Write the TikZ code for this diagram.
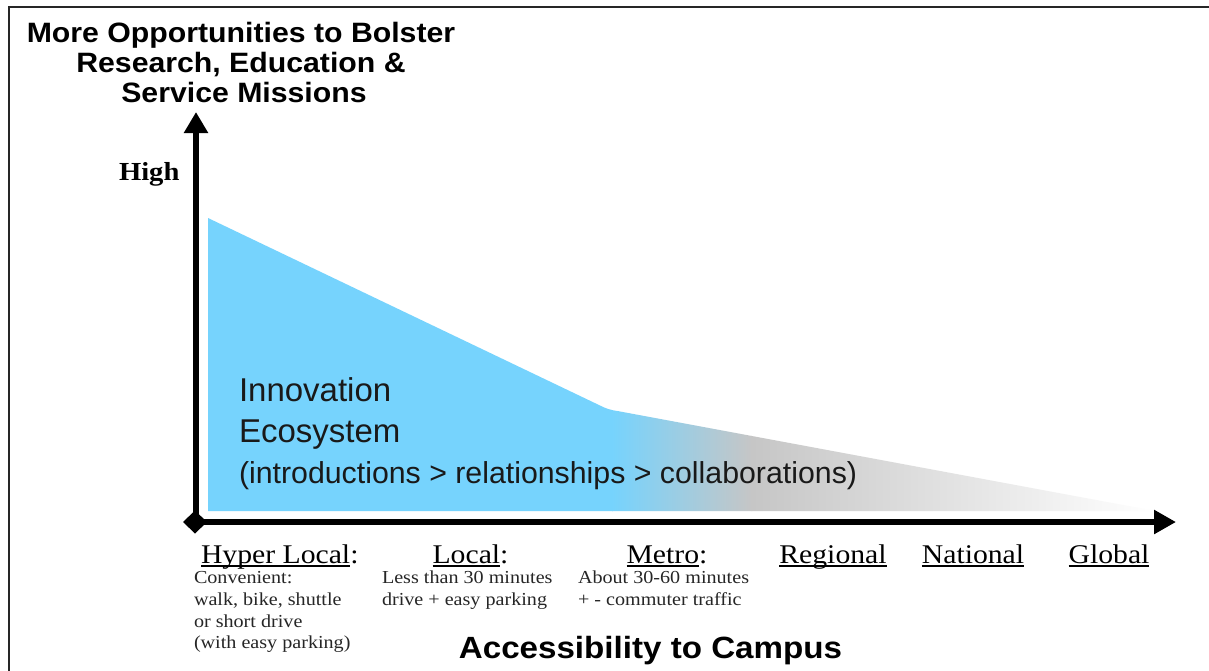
\documentclass[tikz,border=0pt]{standalone}
\usepackage{fontspec}
\setmainfont{Liberation Serif}
\newfontfamily\arialx{Liberation Sans}[FakeStretch=1.08]
\newfontfamily\arialn{Liberation Sans}
\newfontfamily\timesx{Liberation Serif}[FakeStretch=1.1]
\usetikzlibrary{arrows.meta}
\definecolor{ecoblue}{RGB}{118,211,253}
\definecolor{ecogray}{RGB}{198,198,198}
\newsavebox\ulbox
\newcommand\ulx[1]{\sbox\ulbox{#1}\rlap{\rule[-3.6pt]{\wd\ulbox}{1.3pt}}\usebox\ulbox}
\begin{document}
\begin{tikzpicture}[x=1pt,y=-1pt,
  txt/.style={inner sep=0pt, outer sep=0pt, text=black},
  titletxt/.style={txt, anchor=base, font=\arialx\bfseries\fontsize{28}{30}\selectfont},
  axistxt/.style={txt, anchor=base, font=\arialx\bfseries\fontsize{30.7}{32}\selectfont},
  hightxt/.style={txt, anchor=base west, font=\timesx\bfseries\fontsize{26}{28}\selectfont},
  scaletxt/.style={txt, anchor=base, font=\timesx\fontsize{27}{29}\selectfont},
  smalltxt/.style={txt, anchor=base west, text=black!85, font=\timesx\fontsize{18.3}{21}\selectfont},
  ecotxt/.style={txt, anchor=base west, text=black!90, font=\arialn\fontsize{33}{40}\selectfont},
  ecosub/.style={txt, anchor=base west, text=black!90, font=\arialn\fontsize{30.3}{36}\selectfont},
  axisline/.style={line width=6.5pt, black},
  frameline/.style={line width=2pt, black!85}]
\useasboundingbox (0,0) rectangle (1209,670);
\fill[white] (0,0) rectangle (1209,670);
% frame
\draw[frameline] (9,690) -- (9,7) -- (1230,7);
% ecosystem area
\begin{scope}
\path[clip] (208,218) -- (600,405.5) .. controls (606,408.5) and (610,410) .. (618,411.1) -- (1150,510) -- (1150,511) -- (208,511) -- cycle;
\fill[ecoblue] (200,200) rectangle (612.5,520);
\shade[left color=ecoblue, right color=ecogray] (612,200) rectangle (752,520);
\shade[left color=ecogray, right color=white] (751.5,200) rectangle (1155,520);
\end{scope}
% axes
\coordinate (O) at (196,525);
\coordinate (ytip) at (196,112);
\coordinate (xstart) at (183,522);
\coordinate (xtip) at (1176,522);
\draw[axisline, -{Triangle[length=21pt,width=23pt]}] (O) -- (ytip);
\draw[axisline, {Diamond[length=24pt,width=23pt]}-{Triangle[length=22pt,width=23pt]}] (xstart) -- (xtip);
% title
\node[titletxt] (t1) at (241,42) {More Opportunities to Bolster};
\node[titletxt] (t2) at (241,72) {Research, Education \&};
\node[titletxt] (t3) at (244,102) {Service Missions};
\node[hightxt] (high) at (119,180) {High};
% area labels
\node[ecotxt] (inno) at (239,401) {Innovation};
\node[ecotxt] (eco) at (239,442) {Ecosystem};
\node[ecosub] (chain) at (239,483) {(introductions > relationships > collaborations)};
% scale labels
\node[txt, anchor=base west, font=\timesx\fontsize{27}{29}\selectfont] (hyper) at (201,563) {\ulx{Hyper Local}:};
\node[scaletxt] (local) at (470.5,563) {\ulx{Local}:};
\node[scaletxt] (metro) at (667,563) {\ulx{Metro}:};
\node[scaletxt] (regional) at (833,563) {\ulx{Regional}};
\node[scaletxt] (national) at (973,563) {\ulx{National}};
\node[scaletxt] (global) at (1109,563) {\ulx{Global}};
% descriptions
\node[smalltxt] (h1) at (194,583.5) {Convenient:};
\node[smalltxt] (h2) at (194,605.5) {walk, bike, shuttle};
\node[smalltxt] (h3) at (194,627) {or short drive};
\node[smalltxt] (h4) at (194,648.5) {(with easy parking)};
\node[smalltxt] (l1) at (382,583.5) {Less than 30 minutes};
\node[smalltxt] (l2) at (382,605.5) {drive + easy parking};
\node[smalltxt] (m1) at (578,583.5) {About 30-60 minutes};
\node[smalltxt] (m2) at (578,605.5) {+ - commuter traffic};
% x axis title
\node[axistxt] (xlabel) at (650.5,658) {Accessibility to Campus};
\end{tikzpicture}
\end{document}
